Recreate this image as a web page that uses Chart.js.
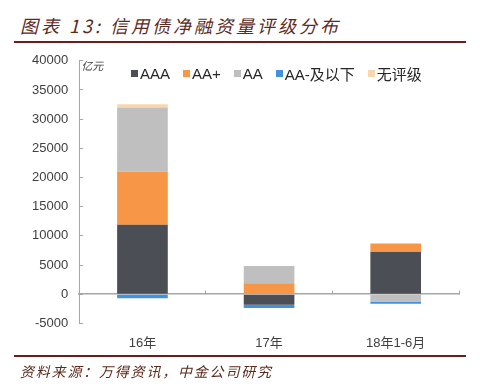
<!DOCTYPE html>
<html>
<head>
<meta charset="utf-8">
<script src="https://cdn.jsdelivr.net/npm/chart.js@4/dist/chart.umd.min.js"></script>
<style>
  html, body { margin: 0; padding: 0; background: #fff; }
  body { width: 480px; height: 390px; position: relative; overflow: hidden; }
  .title {
    position: absolute; left: 20px; top: 12px;
    font: italic 18px "Noto Sans CJK SC", sans-serif; letter-spacing: 3px;
    color: #5c2a1d; white-space: nowrap;
  }
  .rule { position: absolute; left: 14px; width: 452px; height: 2px; background: #6b1d1d; }
  .source {
    position: absolute; left: 20px; top: 361px;
    font: italic 14px "Noto Sans CJK SC", sans-serif; letter-spacing: 1.8px;
    color: #5c2a1d; white-space: nowrap;
  }
  #wrap { position: absolute; left: 0; top: 38px; width: 480px; height: 327px; }
  #legend {
    position: absolute; left: 131px; top: 63px; display: flex; white-space: nowrap;
    font: 15px "Liberation Sans", "Noto Sans CJK SC", sans-serif; color: #262626;
  }
  #legend .item { display: flex; align-items: center; margin-right: 13px; }
  #legend .box { width: 7px; height: 7px; margin-right: 2px; }
</style>
</head>
<body>
<div class="title">图表 13: 信用债净融资量评级分布</div>
<div class="rule" style="top:41px"></div>
<div id="wrap"><canvas id="ratingChart"></canvas></div>
<div id="legend"></div>
<div class="rule" style="top:355px"></div>
<div class="source">资料来源：万得资讯，中金公司研究</div>
<script>
// Categories and series (亿元)
const periods = ['16年', '17年', '18年1-6月'];
const aaa = [11900, -1800, 7250];
const aaPlus = [9100, 1900, 1450];
const aa = [11000, 2950, -1250];
const aaMinus = [-700, -550, -400];
const unrated = [550, 0, 0];

const yMin = -5000;
const yMax = 40000;
const yStep = 5000;
const unitText = '亿元';

const axisGrey = '#a6a6a6';
const textColor = '#404040';
const latin = '"Liberation Sans", "Noto Sans CJK SC", sans-serif';

// unit label next to the top of the value axis
const unitLabel = {
    id: 'unitLabel',
    afterDraw(chart) {
        const { ctx, chartArea, scales } = chart;
        ctx.save();
        ctx.font = 'italic 11px "Noto Sans CJK SC"';
        ctx.fillStyle = textColor;
        ctx.textBaseline = 'middle';
        ctx.fillText(unitText, chartArea.left + 2, scales.y.getPixelForValue(yMax) + 5);
        ctx.restore();
    }
};

// one-row legend laid over the plot area, built from the datasets
const htmlLegend = {
    id: 'htmlLegend',
    afterUpdate(chart) {
        const box = document.getElementById('legend');
        const items = chart.options.plugins.legend.labels.generateLabels(chart);
        box.innerHTML = items.map(it => `
            <span class="item"><span class="box" style="background:${it.fillStyle}"></span>${it.text}</span>
        `).join('');
    }
};

function series(label, data, color) {
    return {
        label: label,
        data: data,
        backgroundColor: color,
        borderWidth: 0,
        barPercentage: 0.8,
        categoryPercentage: 0.5,
        xAxisID: 'x',
        yAxisID: 'y'
    };
}

const ctx = document.getElementById('ratingChart').getContext('2d');
new Chart(ctx, {
    type: 'bar',
    data: {
        labels: periods,
        datasets: [
            series('AAA', aaa, '#4b4e55'),
            series('AA+', aaPlus, '#f79646'),
            series('AA', aa, '#bfbfbf'),
            series('AA-及以下', aaMinus, '#4290e0'),
            series('无评级', unrated, '#f9d7ae')
        ]
    },
    options: {
        responsive: true,
        maintainAspectRatio: false,
        animation: false,
        layout: { padding: { left: 17, right: 21, top: 14, bottom: 2 } },
        scales: {
            x: {
                stacked: true,
                position: 'bottom',
                border: { display: false },
                grid: { display: false, drawTicks: false },
                ticks: { color: textColor, font: { family: latin, size: 13 }, padding: 12 }
            },
            x0: {
                type: 'category',
                axis: 'x',
                position: { y: 0 },
                offset: true,
                border: { display: true, color: axisGrey, width: 1.5 },
                grid: { display: true, offset: true, drawOnChartArea: false, color: axisGrey, tickLength: -4 },
                ticks: { display: false }
            },
            y: {
                stacked: true,
                min: yMin,
                max: yMax,
                border: { display: true, color: axisGrey, width: 1 },
                grid: { drawOnChartArea: false, color: axisGrey, tickLength: -4 },
                ticks: {
                    stepSize: yStep,
                    color: textColor,
                    font: { family: latin, size: 13 },
                    padding: 15,
                    callback: value => String(value)
                }
            }
        },
        plugins: {
            legend: { display: false },
            tooltip: { enabled: false }
        }
    },
    plugins: [unitLabel, htmlLegend]
});
</script>
</body>
</html>
